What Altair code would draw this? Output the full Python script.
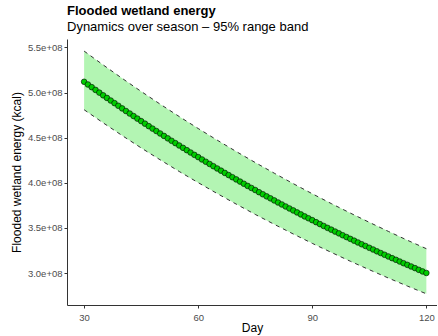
import altair as alt
import pandas as pd

# Mean daily energy (units of 1e8 kcal), days 30..120
days = list(range(30, 121))
mean_e8 = [
    5.120, 5.090, 5.060, 5.030, 5.000, 4.970, 4.941, 4.912, 4.883, 4.854,
    4.825, 4.796, 4.768, 4.740, 4.712, 4.684, 4.656, 4.628, 4.601, 4.574,
    4.547, 4.520, 4.493, 4.466, 4.440, 4.414, 4.388, 4.362, 4.336, 4.310,
    4.285, 4.259, 4.234, 4.209, 4.184, 4.159, 4.135, 4.110, 4.086, 4.062,
    4.038, 4.014, 3.990, 3.966, 3.943, 3.920, 3.896, 3.873, 3.850, 3.828,
    3.805, 3.782, 3.760, 3.738, 3.716, 3.694, 3.672, 3.650, 3.628, 3.607,
    3.586, 3.564, 3.543, 3.522, 3.501, 3.481, 3.460, 3.440, 3.419, 3.399,
    3.379, 3.359, 3.339, 3.319, 3.300, 3.280, 3.261, 3.241, 3.222, 3.203,
    3.184, 3.165, 3.147, 3.128, 3.109, 3.091, 3.073, 3.055, 3.036, 3.018,
    3.001,
]

# 95% range band (units of 1e8 kcal), every 5 days
band_days = [30, 35, 40, 45, 50, 55, 60, 65, 70, 75, 80, 85, 90, 95, 100, 105, 110, 115, 120]
upper_e8 = [5.460, 5.307, 5.158, 5.013, 4.872, 4.735, 4.602, 4.473, 4.347, 4.225,
            4.107, 3.991, 3.879, 3.770, 3.665, 3.562, 3.462, 3.364, 3.270]
lower_e8 = [4.810, 4.665, 4.524, 4.387, 4.255, 4.126, 4.002, 3.881, 3.764, 3.650,
            3.540, 3.433, 3.329, 3.229, 3.131, 3.037, 2.945, 2.856, 2.770]

x_ticks = [30, 60, 90, 120]
y_ticks = [3.0e8, 3.5e8, 4.0e8, 4.5e8, 5.0e8, 5.5e8]

mean_df = pd.DataFrame({"day": days, "energy": [v * 1e8 for v in mean_e8]})
band_df = pd.DataFrame({
    "day": band_days,
    "upper": [v * 1e8 for v in upper_e8],
    "lower": [v * 1e8 for v in lower_e8],
})

FONT = "Liberation Sans"
xscale = alt.Scale(domain=[25.5, 122.8], nice=False, zero=False)
yscale = alt.Scale(domain=[2.646e8, 5.594e8], nice=False, zero=False)

xaxis = alt.Axis(values=x_ticks, title="Day", grid=False, labelFont=FONT, labelFontSize=9.5,
                 labelColor="#4d4d4d", titleFont=FONT, titleFontSize=12, titleFontWeight="normal",
                 titleColor="black", tickColor="#333333", tickSize=3, domainColor="#333333",
                 labelPadding=4, titlePadding=1)
yaxis = alt.Axis(values=y_ticks, title="Flooded wetland energy (kcal)", grid=False,
                 labelExpr="replace(format(datum.value, '.1e'), 'e+', 'e+0')",
                 labelFont=FONT, labelFontSize=9.5, labelColor="#4d4d4d", titleFont=FONT,
                 titleFontSize=12, titleFontWeight="normal", titleColor="black",
                 tickColor="#333333", tickSize=3, domainColor="#333333", labelPadding=2,
                 titlePadding=4)

band = alt.Chart(band_df).mark_area(color="#b3f5b3", opacity=1).encode(
    x=alt.X("day:Q", scale=xscale, axis=xaxis),
    y=alt.Y("upper:Q", scale=yscale, axis=yaxis),
    y2="lower:Q",
)
up_line = alt.Chart(band_df).mark_line(color="#333333", strokeDash=[4, 4], strokeWidth=1).encode(
    x="day:Q", y="upper:Q")
lo_line = alt.Chart(band_df).mark_line(color="#333333", strokeDash=[4, 4], strokeWidth=1).encode(
    x="day:Q", y="lower:Q")
mean_line = alt.Chart(mean_df).mark_line(color="black", strokeWidth=1).encode(x="day:Q", y="energy:Q")
pts = alt.Chart(mean_df).mark_point(filled=True, fill="#00cd00", stroke="black", strokeWidth=0.6,
                                   size=32, opacity=1).encode(x="day:Q", y="energy:Q")

chart = alt.layer(band, up_line, lo_line, mean_line, pts).properties(
    width=370, height=266,
    background="white",
    autosize=alt.AutoSizeParams(type="none"),
    padding={"left": 67, "top": 39, "right": 0, "bottom": 31},
    title=alt.TitleParams(text="Flooded wetland energy", subtitle="Dynamics over season – 95% range band",
                          anchor="start", font=FONT, fontSize=13, fontWeight="bold", color="black",
                          subtitleFont=FONT, subtitleFontSize=13, subtitleColor="black",
                          subtitlePadding=3, offset=5, frame="group"),
).configure_view(strokeWidth=0, stroke="transparent")

chart.save("out.html", embed_options={"renderer": "svg", "actions": False})
